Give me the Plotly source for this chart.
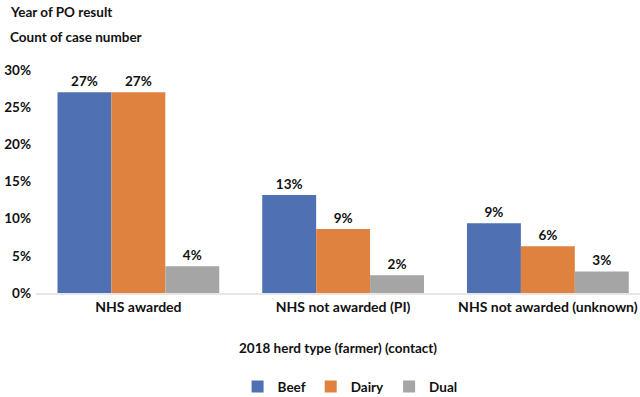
import plotly.graph_objects as go

categories = ["NHS awarded", "NHS not awarded (PI)", "NHS not awarded (unknown)"]
beef = [27.0, 13.2, 9.4]
dairy = [27.0, 8.6, 6.3]
dual = [3.6, 2.4, 2.9]
series_names = ["Beef", "Dairy", "Dual"]
colors = ["#4F71B3", "#E0823F", "#A5A5A5"]
y_ticks = [0, 5, 10, 15, 20, 25, 30]
y_tick_labels = [f"{v}%" for v in y_ticks]

FONT = "Lato"
FS = 13.5
fig = go.Figure()
for name, vals, col in zip(series_names, [beef, dairy, dual], colors):
    fig.add_trace(go.Bar(
        x=categories, y=vals, name=name, marker_color=col,
        marker_line_width=0,
        texttemplate="%{y:.0f}%", textposition="outside",
        textfont=dict(family=FONT, size=FS, color="#111111", weight="bold"),
        cliponaxis=False,
    ))

fig.update_layout(
    width=640, height=397,
    paper_bgcolor="white", plot_bgcolor="white",
    barmode="group", bargap=0.21, bargroupgap=0,
    margin=dict(l=36, r=0, t=70, b=104, autoexpand=False),
    font=dict(family=FONT, size=FS, color="#111111"),
    xaxis=dict(range=[-0.5, 2.45], showgrid=False, showline=True, automargin=False,
               linecolor="#e6e6e6", linewidth=2, ticks="",
               tickfont=dict(family=FONT, size=14, color="#111111", weight="bold")),
    yaxis=dict(range=[0, 30], tickvals=y_ticks, ticktext=y_tick_labels, automargin=False,
               showgrid=False, zeroline=False, showline=False, ticks="", ticklabelstandoff=4,
               tickfont=dict(family=FONT, size=FS, color="#111111", weight="bold")),
    legend=dict(orientation="h", x=0.52, xanchor="center", y=-0.42, yanchor="middle",
                font=dict(family=FONT, size=FS, color="#111111", weight="bold"),
                itemwidth=30, traceorder="normal"),
    uniformtext=dict(minsize=13, mode="show"),
    annotations=[
        dict(text="<b>Year of PO result</b>", xref="paper", yref="paper",
             x=-28/604, y=1 + (70-12)/223, xanchor="left", yanchor="middle",
             showarrow=False, font=dict(family=FONT, size=FS, color="#111111")),
        dict(text="<b>Count of case number</b>", xref="paper", yref="paper",
             x=-28/604, y=1 + (70-37)/223, xanchor="left", yanchor="middle",
             showarrow=False, font=dict(family=FONT, size=FS, color="#111111")),
        dict(text="<b>2018 herd type (farmer) (contact)</b>", xref="paper", yref="paper",
             x=(338-36)/604, y=-(348-293)/223, xanchor="center", yanchor="middle",
             showarrow=False, font=dict(family=FONT, size=FS, color="#111111")),
    ],
)

fig.write_html("out.html", config={"displayModeBar": False},
               post_script="document.body.style.margin='0';document.body.style.overflow='hidden';")
